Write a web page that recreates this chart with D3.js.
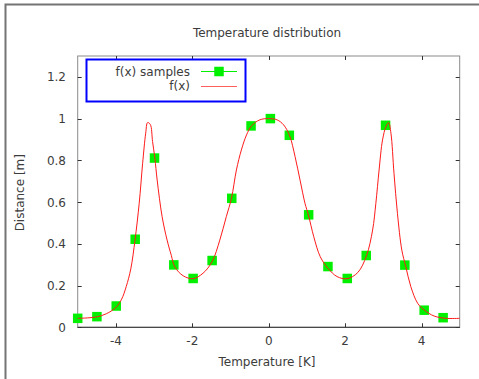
<!DOCTYPE html>
<html>
<head>
<meta charset="utf-8">
<script src="https://cdn.jsdelivr.net/npm/d3@7"></script>
<style>
  html, body { margin: 0; padding: 0; background: #fff; }
  svg text { font-family: "DejaVu Sans", sans-serif; font-size: 12px; fill: #3c3c3c; }
</style>
</head>
<body>
<svg id="chart" width="479" height="379"></svg>
<script>
const SAMPLE_X = [-5.0, -4.497, -3.991, -3.495, -2.989, -2.484, -1.978, -1.481, -0.967, -0.462,
                  0.044, 0.540, 1.046, 1.551, 2.057, 2.553, 3.059, 3.564, 4.070, 4.566];
const SAMPLE_Y = [0.043, 0.051, 0.102, 0.422, 0.811, 0.299, 0.234, 0.320, 0.618, 0.965,
                  1.000, 0.920, 0.539, 0.291, 0.234, 0.344, 0.968, 0.298, 0.082, 0.046];

// The continuous f(x) line
const CURVE_X = [-5.0, -4.75, -4.5, -4.25, -4.0, -3.85, -3.73, -3.61, -3.5, -3.39, -3.3, -3.22, -3.17,
                 -3.1, -3.04, -2.98, -2.92, -2.79, -2.66, -2.55, -2.46, -2.24, -1.98, -1.72, -1.48,
                 -1.28, -1.11, -0.975, -0.845, -0.715, -0.58, -0.45, -0.235, 0.0, 0.22, 0.39, 0.55,
                 0.69, 0.82, 0.95, 1.04, 1.18, 1.35, 1.55, 1.79, 2.05, 2.33, 2.56, 2.72, 2.805, 2.89,
                 2.98, 3.07, 3.14, 3.2, 3.28, 3.37, 3.485, 3.59, 3.72, 3.9, 4.07, 4.33, 4.64, 5.0];
const CURVE_Y = [0.043, 0.045, 0.050, 0.065, 0.095, 0.135, 0.195, 0.280, 0.418, 0.594, 0.786, 0.930, 0.981,
                 0.972, 0.890, 0.810, 0.706, 0.530, 0.418, 0.345, 0.290, 0.247, 0.233, 0.259, 0.315,
                 0.418, 0.530, 0.618, 0.754, 0.850, 0.922, 0.965, 0.994, 1.000, 0.994, 0.970, 0.917,
                 0.818, 0.706, 0.594, 0.538, 0.434, 0.338, 0.283, 0.243, 0.233, 0.262, 0.343, 0.466, 0.594, 0.754,
                 0.898, 0.962, 0.981, 0.930, 0.738, 0.546, 0.370, 0.290, 0.195, 0.115, 0.083, 0.054, 0.043, 0.043];

const X_TICKS = [-4, -2, 0, 2, 4];
const Y_TICKS = [0, 0.2, 0.4, 0.6, 0.8, 1, 1.2];
const X_DOMAIN = [-5, 5];
const Y_DOMAIN = [0, 1.3];

const TITLE = 'Temperature distribution';
const X_LABEL = 'Temperature [K]';
const Y_LABEL = 'Distance [m]';
const LEGEND = ['f(x) samples', 'f(x)'];

const PLOT = { left: 77.7, right: 459.7, top: 56, bottom: 327.3 };
const TICK = 4;
const S = 9.5;   // marker size
const GREEN = '#00f000';
const RED = '#ff1a1a';

const svg = d3.select('#chart');

// outer window frame (top + left edges only are visible)
svg.append('path')
  .attr('d', 'M5.5,379 V4.5 H479')
  .attr('fill', 'none')
  .attr('stroke', '#747474')
  .attr('stroke-width', 2);

const x = d3.scaleLinear().domain(X_DOMAIN).range([PLOT.left, PLOT.right]);
const y = d3.scaleLinear().domain(Y_DOMAIN).range([PLOT.bottom, PLOT.top]);

// title
svg.append('text')
  .attr('x', 267).attr('y', 37)
  .attr('text-anchor', 'middle')
  .text(TITLE);

// plot border
svg.append('rect')
  .attr('x', PLOT.left).attr('y', PLOT.top)
  .attr('width', PLOT.right - PLOT.left).attr('height', PLOT.bottom - PLOT.top)
  .attr('fill', 'none')
  .attr('stroke', '#8a8a8a');
svg.append('line')
  .attr('x1', PLOT.left).attr('x2', PLOT.right)
  .attr('y1', PLOT.bottom).attr('y2', PLOT.bottom)
  .attr('stroke', '#333');

// ticks on all four sides, pointing inwards
const axisG = svg.append('g').attr('stroke', '#333').attr('stroke-width', 1);
X_TICKS.forEach(t => {
  const px = Math.round(x(t)) + 0.5;
  axisG.append('line').attr('x1', px).attr('x2', px)
    .attr('y1', PLOT.bottom).attr('y2', PLOT.bottom - TICK);
  axisG.append('line').attr('x1', px).attr('x2', px)
    .attr('y1', PLOT.top).attr('y2', PLOT.top + TICK);
  svg.append('text')
    .attr('x', x(t)).attr('y', 344.5)
    .attr('text-anchor', 'middle')
    .text(t);
});
Y_TICKS.forEach(t => {
  const py = Math.round(y(t)) + 0.5;
  axisG.append('line').attr('x1', PLOT.left).attr('x2', PLOT.left + TICK)
    .attr('y1', py).attr('y2', py);
  axisG.append('line').attr('x1', PLOT.right).attr('x2', PLOT.right - TICK)
    .attr('y1', py).attr('y2', py);
  svg.append('text')
    .attr('x', 66).attr('y', y(t) + 4.5)
    .attr('text-anchor', 'end')
    .text(t);
});

// axis labels
svg.append('text')
  .attr('x', 267).attr('y', 365.5)
  .attr('text-anchor', 'middle')
  .text(X_LABEL);
svg.append('text')
  .attr('transform', 'translate(23.5,192.7) rotate(-90)')
  .attr('text-anchor', 'middle')
  .text(Y_LABEL);

// sample squares, under the curve
const samples = SAMPLE_X.map((v, i) => [v, SAMPLE_Y[i]]);
svg.append('g').selectAll('rect')
  .data(samples)
  .join('rect')
  .attr('x', d => x(d[0]) - S / 2)
  .attr('y', d => y(d[1]) - S / 2)
  .attr('width', S).attr('height', S)
  .attr('fill', GREEN);

// continuous curve
const curve = CURVE_X.map((v, i) => [v, CURVE_Y[i]]);
svg.append('path')
  .datum(curve)
  .attr('fill', 'none')
  .attr('stroke', RED)
  .attr('stroke-width', 1)
  .attr('d', d3.line()
    .x(d => x(d[0]))
    .y(d => y(d[1]))
    .curve(d3.curveCatmullRom.alpha(0.5)));

// legend box
const leg = svg.append('g');
leg.append('rect')
  .attr('x', 86.5).attr('y', 59.5)
  .attr('width', 159).attr('height', 42)
  .attr('fill', '#fff')
  .attr('stroke', '#0000ff')
  .attr('stroke-width', 2);
leg.append('text').attr('x', 190).attr('y', 75.5).attr('text-anchor', 'end').text(LEGEND[0]);
leg.append('text').attr('x', 190).attr('y', 90).attr('text-anchor', 'end').text(LEGEND[1]);
leg.append('line')
  .attr('x1', 201).attr('x2', 237).attr('y1', 71.5).attr('y2', 71.5)
  .attr('stroke', GREEN);
leg.append('rect')
  .attr('x', 219 - S / 2).attr('y', 71.5 - S / 2)
  .attr('width', S).attr('height', S)
  .attr('fill', GREEN);
leg.append('line')
  .attr('x1', 201).attr('x2', 237).attr('y1', 86.5).attr('y2', 86.5)
  .attr('stroke', RED)
  .attr('stroke-opacity', 0.7);
</script>
</body>
</html>
